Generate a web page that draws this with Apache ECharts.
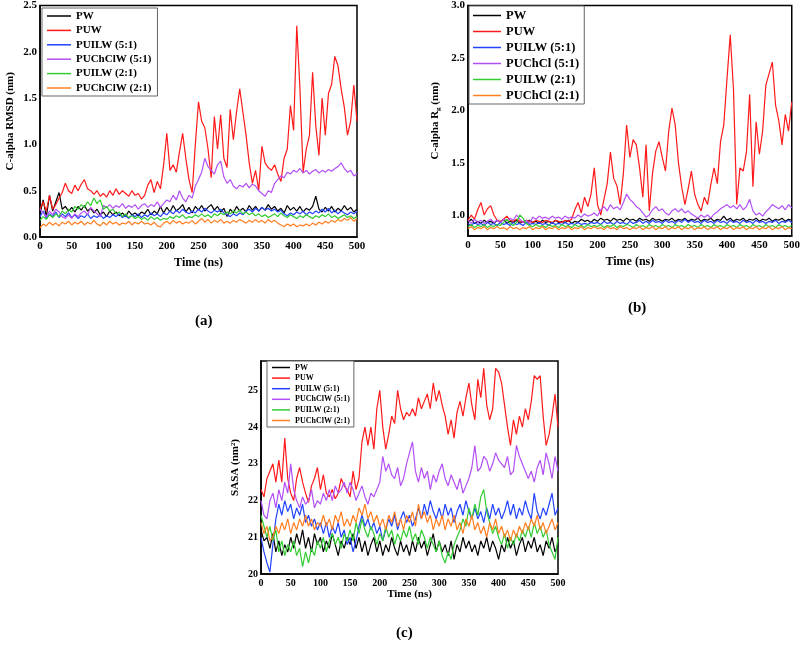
<!DOCTYPE html>
<html><head><meta charset="utf-8">
<script src="https://cdn.jsdelivr.net/npm/echarts@6/dist/echarts.min.js"></script>
<style>html,body{margin:0;padding:0;background:#fff}#c{width:803px;height:657px}</style>
</head><body><div id="c"></div>
<script>
// ---- shared time axis (ns) ----
const TIME = [0,5,10,15,20,25,30,35,40,45,50,55,60,65,70,75,80,85,90,95,
100,105,110,115,120,125,130,135,140,145,150,155,160,165,170,175,180,185,190,195,
200,205,210,215,220,225,230,235,240,245,250,255,260,265,270,275,280,285,290,295,
300,305,310,315,320,325,330,335,340,345,350,355,360,365,370,375,380,385,390,395,
400,405,410,415,420,425,430,435,440,445,450,455,460,465,470,475,480,485,490,495,500];

const NAMES_A = ['PW','PUW','PUILW (5:1)','PUChClW (5:1)','PUILW (2:1)','PUChClW (2:1)'];
const NAMES_B = ['PW','PUW','PUILW (5:1)','PUChCl (5:1)','PUILW (2:1)','PUChCl (2:1)'];
const NAMES_C = ['PW','PUW','PUILW (5:1)','PUChClW (5:1)','PUILW (2:1)','PUChClW (2:1)'];

// ---- (a) C-alpha RMSD (nm) ----
const A_PW = [0.25,0.40,0.22,0.45,0.28,0.38,0.48,0.30,0.33,0.28,
0.32,0.27,0.33,0.29,0.34,0.28,0.31,0.26,0.30,0.24,
0.27,0.22,0.28,0.24,0.27,0.23,0.26,0.22,0.28,0.24,
0.26,0.23,0.27,0.25,0.30,0.24,0.28,0.25,0.33,0.26,
0.32,0.27,0.34,0.28,0.31,0.35,0.27,0.32,0.26,0.33,
0.29,0.34,0.28,0.32,0.35,0.29,0.33,0.27,0.31,0.22,
0.30,0.26,0.33,0.28,0.31,0.27,0.34,0.29,0.33,0.28,
0.32,0.29,0.35,0.30,0.33,0.28,0.31,0.26,0.34,0.29,
0.32,0.28,0.33,0.27,0.31,0.29,0.33,0.44,0.30,0.27,
0.32,0.28,0.33,0.27,0.31,0.28,0.34,0.29,0.32,0.27,0.30];
const A_PUW = [0.30,0.38,0.28,0.45,0.30,0.35,0.42,0.48,0.58,0.50,
0.47,0.56,0.50,0.57,0.62,0.52,0.50,0.46,0.50,0.44,
0.47,0.43,0.50,0.45,0.52,0.46,0.50,0.47,0.44,0.50,
0.45,0.47,0.41,0.45,0.56,0.62,0.48,0.60,0.52,0.78,
1.12,0.72,0.78,0.70,0.92,1.12,0.85,0.62,0.48,1.00,
1.46,1.25,1.18,0.95,0.64,1.30,0.95,1.32,0.85,0.75,
1.38,1.05,1.35,1.60,1.35,1.10,0.80,0.58,0.72,0.50,
0.98,0.80,0.75,0.72,0.78,0.68,0.60,0.85,0.95,1.42,
1.15,2.28,1.60,0.70,0.95,1.10,1.78,1.20,0.88,1.50,
1.10,1.55,1.65,1.95,1.85,1.60,1.40,1.10,1.25,1.64,1.25];
const A_PUILW5 = [0.22,0.28,0.20,0.25,0.22,0.27,0.21,0.25,0.22,0.26,
0.21,0.24,0.20,0.23,0.21,0.25,0.20,0.23,0.21,0.24,
0.20,0.23,0.21,0.24,0.22,0.25,0.21,0.23,0.20,0.24,
0.22,0.25,0.21,0.24,0.22,0.26,0.23,0.25,0.22,0.26,
0.24,0.28,0.25,0.29,0.26,0.30,0.27,0.25,0.28,0.26,
0.30,0.27,0.31,0.28,0.26,0.29,0.27,0.30,0.26,0.24,
0.22,0.25,0.23,0.26,0.24,0.28,0.30,0.27,0.31,0.28,
0.32,0.29,0.31,0.28,0.30,0.27,0.29,0.25,0.23,0.26,
0.24,0.27,0.25,0.28,0.24,0.27,0.25,0.28,0.26,0.30,
0.27,0.31,0.26,0.29,0.25,0.28,0.26,0.24,0.27,0.25,0.28];
const A_PUChClW5 = [0.30,0.26,0.22,0.28,0.24,0.30,0.27,0.22,0.20,0.24,
0.20,0.25,0.22,0.26,0.28,0.24,0.32,0.28,0.25,0.22,
0.34,0.32,0.35,0.31,0.34,0.32,0.36,0.31,0.34,0.32,
0.35,0.30,0.34,0.36,0.32,0.35,0.33,0.38,0.32,0.36,
0.40,0.38,0.45,0.40,0.50,0.42,0.38,0.45,0.42,0.55,
0.62,0.70,0.85,0.76,0.72,0.68,0.78,0.82,0.65,0.58,
0.62,0.55,0.52,0.56,0.54,0.58,0.53,0.57,0.55,0.50,
0.47,0.44,0.50,0.48,0.58,0.62,0.66,0.64,0.70,0.68,
0.72,0.70,0.74,0.69,0.72,0.68,0.71,0.73,0.69,0.72,
0.70,0.73,0.71,0.74,0.76,0.80,0.74,0.70,0.72,0.66,0.68];
const A_PUILW2 = [0.18,0.22,0.19,0.24,0.21,0.25,0.22,0.28,0.25,0.30,
0.27,0.33,0.30,0.35,0.32,0.38,0.34,0.42,0.36,0.40,
0.30,0.33,0.28,0.30,0.25,0.27,0.22,0.25,0.21,0.23,
0.20,0.22,0.19,0.21,0.18,0.22,0.19,0.21,0.18,0.20,
0.19,0.22,0.20,0.23,0.21,0.24,0.20,0.22,0.21,0.24,
0.22,0.25,0.22,0.24,0.21,0.25,0.23,0.26,0.24,0.27,
0.25,0.28,0.26,0.29,0.25,0.27,0.24,0.26,0.23,0.25,
0.22,0.24,0.21,0.23,0.25,0.22,0.26,0.23,0.21,0.24,
0.22,0.20,0.23,0.21,0.24,0.22,0.20,0.23,0.21,0.24,
0.22,0.25,0.21,0.23,0.20,0.22,0.24,0.21,0.23,0.20,0.22];
const A_PUChClW2 = [0.10,0.14,0.12,0.16,0.13,0.15,0.12,0.16,0.14,0.17,
0.13,0.16,0.14,0.17,0.13,0.16,0.14,0.18,0.14,0.12,
0.16,0.13,0.17,0.14,0.16,0.13,0.15,0.14,0.17,0.13,
0.16,0.14,0.17,0.14,0.15,0.13,0.16,0.12,0.11,0.15,
0.17,0.14,0.18,0.15,0.17,0.14,0.16,0.15,0.18,0.14,
0.17,0.20,0.16,0.19,0.15,0.18,0.16,0.19,0.15,0.17,
0.15,0.18,0.16,0.19,0.17,0.15,0.18,0.16,0.19,0.16,
0.18,0.15,0.19,0.16,0.18,0.15,0.13,0.11,0.14,0.12,
0.14,0.11,0.13,0.12,0.14,0.12,0.15,0.13,0.16,0.14,
0.17,0.15,0.18,0.16,0.19,0.17,0.20,0.18,0.21,0.17,0.20];

// ---- (b) C-alpha Rg (nm) ----
const B_PW = [0.93,0.96,0.92,0.94,0.92,0.95,0.93,0.94,0.92,0.95,
0.93,0.96,0.92,0.94,0.93,0.95,0.92,0.94,0.93,0.95,
0.93,0.94,0.92,0.95,0.93,0.94,0.92,0.95,0.93,0.94,
0.93,0.95,0.92,0.94,0.93,0.96,0.94,0.95,0.93,0.96,
0.94,0.97,0.95,0.96,0.94,0.97,0.95,0.96,0.94,0.97,
0.95,0.96,0.94,0.97,0.95,0.96,0.94,0.97,0.95,0.96,
0.94,0.96,0.95,0.97,0.94,0.96,0.95,0.97,0.94,0.96,
0.95,0.97,0.94,0.96,0.95,0.97,0.94,0.96,0.95,0.99,
0.95,0.97,0.94,0.96,0.95,0.97,0.94,0.96,0.95,0.97,
0.94,0.96,0.95,0.97,0.94,0.96,0.95,0.97,0.94,0.96,0.95];
const B_PUW = [0.95,1.00,0.96,1.05,1.12,1.00,1.06,1.09,1.00,0.95,
0.94,0.96,0.99,0.95,0.94,0.96,0.94,0.93,0.95,0.94,
0.93,0.95,0.94,0.93,0.95,0.94,0.93,0.95,0.94,0.93,
0.95,0.94,0.96,1.05,1.12,1.02,1.17,1.08,1.20,1.45,
1.10,1.00,1.15,1.30,1.60,1.35,1.28,1.10,1.40,1.86,
1.55,1.72,1.67,1.45,1.17,1.67,1.04,1.40,1.61,1.70,
1.55,1.42,1.80,2.02,1.86,1.50,1.27,1.10,1.25,1.42,
1.20,1.10,1.04,1.17,1.10,1.29,1.45,1.30,1.70,1.86,
2.30,2.72,2.20,1.10,1.45,1.42,1.60,2.15,1.27,1.89,
1.58,1.80,2.24,2.35,2.46,2.05,1.90,1.67,1.96,1.80,2.08];
const B_PUILW5 = [0.92,0.90,0.93,0.91,0.92,0.90,0.93,0.91,0.92,0.90,
0.93,0.91,0.92,0.90,0.93,0.91,0.92,0.90,0.93,0.91,
0.92,0.91,0.93,0.91,0.92,0.90,0.93,0.91,0.92,0.91,
0.93,0.91,0.92,0.91,0.93,0.91,0.92,0.91,0.93,0.92,
0.93,0.91,0.94,0.92,0.93,0.91,0.94,0.92,0.93,0.91,
0.94,0.92,0.93,0.95,0.92,0.94,0.92,0.95,0.93,0.94,
0.92,0.95,0.93,0.94,0.92,0.95,0.93,0.96,0.93,0.95,
0.93,0.94,0.92,0.95,0.93,0.94,0.92,0.95,0.93,0.94,
0.92,0.95,0.93,0.94,0.92,0.95,0.93,0.94,0.92,0.95,
0.93,0.94,0.92,0.94,0.93,0.95,0.92,0.94,0.93,0.95,0.93];
const B_PUChCl5 = [0.95,0.92,0.96,0.93,0.95,0.92,0.94,0.96,0.93,0.95,
0.93,0.96,0.94,0.97,0.95,1.00,0.96,0.93,0.95,0.92,
0.98,0.96,0.99,0.97,0.98,0.96,0.99,0.97,0.98,0.96,
0.99,0.97,0.98,0.97,1.00,0.98,1.01,0.99,1.00,1.02,
0.99,1.05,1.08,1.04,1.10,1.06,1.08,1.05,1.12,1.20,
1.15,1.12,1.08,1.06,1.02,0.98,1.00,1.05,1.08,1.04,
1.06,1.02,1.00,1.04,1.06,1.03,1.06,1.02,1.04,1.01,
0.99,0.97,1.00,0.98,1.00,0.97,1.01,1.03,1.06,1.08,
1.10,1.07,1.09,1.06,1.10,1.05,1.08,1.15,1.04,1.00,
1.02,0.99,1.03,1.06,1.10,1.08,1.06,1.09,1.05,1.10,1.07];
const B_PUILW2 = [0.89,0.91,0.88,0.90,0.89,0.91,0.88,0.90,0.89,0.91,
0.90,0.93,0.96,0.92,0.90,0.93,1.00,0.97,0.92,0.90,
0.89,0.91,0.89,0.90,0.88,0.91,0.89,0.90,0.88,0.91,
0.89,0.90,0.88,0.91,0.89,0.90,0.88,0.91,0.89,0.90,
0.89,0.91,0.88,0.90,0.89,0.91,0.88,0.90,0.89,0.91,
0.90,0.88,0.91,0.89,0.90,0.88,0.91,0.89,0.90,0.88,
0.91,0.89,0.90,0.88,0.91,0.89,0.90,0.88,0.91,0.89,
0.90,0.88,0.91,0.89,0.90,0.88,0.91,0.89,0.90,0.88,
0.91,0.89,0.90,0.88,0.91,0.89,0.90,0.88,0.91,0.89,
0.90,0.88,0.91,0.89,0.90,0.88,0.91,0.89,0.90,0.88,0.90];
const B_PUChCl2 = [0.87,0.89,0.86,0.88,0.87,0.89,0.86,0.88,0.87,0.89,
0.87,0.88,0.86,0.89,0.87,0.88,0.86,0.88,0.87,0.89,
0.86,0.88,0.87,0.89,0.86,0.88,0.87,0.89,0.86,0.88,
0.87,0.89,0.86,0.88,0.87,0.89,0.86,0.88,0.87,0.89,
0.87,0.88,0.86,0.89,0.87,0.88,0.86,0.89,0.87,0.88,
0.86,0.88,0.87,0.89,0.86,0.88,0.87,0.89,0.86,0.88,
0.87,0.89,0.86,0.88,0.87,0.89,0.86,0.88,0.87,0.89,
0.86,0.88,0.87,0.89,0.86,0.88,0.87,0.89,0.86,0.88,
0.87,0.89,0.86,0.88,0.87,0.89,0.86,0.88,0.87,0.89,
0.86,0.88,0.87,0.89,0.86,0.88,0.87,0.89,0.86,0.88,0.87];

// ---- (c) SASA (nm^2) ----
const C_PW = [21.2,20.9,21.0,20.7,21.1,20.6,20.9,20.5,20.8,20.6,
21.0,20.7,21.1,20.8,21.2,20.7,21.0,20.6,21.1,20.8,
21.0,20.6,20.9,20.7,21.1,20.8,20.5,20.9,20.7,21.0,
20.8,21.1,20.7,21.0,20.6,20.9,20.5,20.8,21.0,20.6,
20.9,20.5,20.8,20.6,21.0,20.7,20.5,20.9,20.6,20.8,
20.5,20.9,20.6,21.0,20.7,20.9,20.5,20.8,21.1,20.6,
20.9,20.6,20.8,20.5,20.9,20.4,20.8,20.6,21.0,20.7,
20.9,20.6,20.8,20.5,20.9,20.7,21.0,20.6,20.9,20.7,
20.4,20.8,20.6,21.0,20.7,20.9,20.5,20.8,21.0,20.6,
20.9,20.7,21.0,20.6,20.8,20.5,20.9,20.7,21.0,20.6,20.8];
const C_PUW = [22.3,22.1,22.6,22.8,23.0,22.5,23.1,22.5,23.7,22.6,
22.2,22.0,22.6,22.9,22.5,22.2,21.95,22.4,22.6,22.9,
22.3,22.7,22.2,22.1,22.3,22.05,22.2,22.6,22.4,22.3,
22.1,22.8,22.3,22.6,23.6,24.0,23.5,24.0,23.4,24.5,
25.0,24.0,23.4,23.8,24.3,24.1,25.0,24.5,24.2,24.4,
24.3,24.5,24.3,24.8,24.5,24.7,24.9,24.5,25.2,24.7,
25.0,24.6,24.3,23.8,24.2,23.7,24.4,24.7,24.3,24.8,
25.2,24.6,24.2,25.3,24.8,25.6,24.6,24.2,24.5,25.6,
25.5,25.2,24.6,24.0,23.5,24.2,23.8,24.3,24.0,24.5,
24.2,24.7,25.4,25.3,25.4,24.3,23.5,23.8,24.3,24.9,24.0];
const C_PUILW5 = [21.0,20.6,20.3,20.05,20.8,21.5,21.9,21.6,22.0,21.7,
21.9,21.5,21.8,21.6,21.9,21.4,21.6,21.3,21.5,21.2,
21.4,21.1,21.4,21.0,21.3,21.1,21.4,21.0,21.2,20.8,
21.0,20.6,20.9,21.3,21.6,21.3,21.5,21.2,21.4,21.1,
21.3,20.9,21.2,21.5,21.3,21.6,21.2,21.5,21.7,21.4,
21.6,21.3,21.5,21.8,21.5,21.9,21.6,22.0,21.7,21.5,
21.8,21.5,21.9,21.6,21.8,21.4,21.7,21.9,21.6,22.0,
21.7,21.5,21.8,21.5,21.7,21.4,21.8,21.5,21.9,21.6,
21.8,21.5,21.7,22.0,21.6,21.9,21.5,21.8,21.6,22.0,
21.7,21.5,22.2,21.7,21.5,21.8,21.6,21.9,22.2,21.6,21.8];
const C_PUChClW5 = [22.0,21.6,21.5,22.0,22.2,21.8,22.3,22.0,22.5,22.2,
23.0,22.3,22.0,21.8,22.1,21.9,22.0,22.3,21.8,22.0,
21.9,22.2,22.0,22.3,22.0,22.4,22.2,22.3,22.5,22.2,
22.5,22.3,22.0,22.2,22.4,22.1,21.9,22.2,22.1,22.3,
22.5,23.2,22.8,23.0,22.7,22.6,22.9,22.4,22.6,23.0,
23.3,23.6,22.8,22.5,22.9,22.6,22.8,22.3,22.7,22.5,
22.8,23.0,22.6,22.4,22.7,22.5,22.3,22.6,22.2,22.4,
22.6,22.9,23.5,22.8,22.9,23.2,23.1,22.8,23.0,23.3,
23.1,23.0,22.9,23.2,22.7,22.8,23.5,23.2,23.0,22.8,
22.6,22.8,22.5,22.9,23.1,22.7,23.3,23.0,22.6,23.2,22.8];
const C_PUILW2 = [21.6,21.3,21.0,21.3,20.9,21.2,20.6,20.9,20.5,20.8,
20.6,20.9,20.5,20.7,20.2,20.6,20.3,20.7,20.5,20.9,
20.7,21.0,20.6,20.9,21.1,20.8,21.0,20.7,21.1,20.9,
21.2,20.9,21.4,21.1,21.5,21.2,21.0,21.3,21.1,20.8,
21.1,20.9,21.3,21.0,21.2,20.8,21.1,20.9,21.2,21.0,
21.3,20.9,21.1,20.8,21.2,21.0,20.7,21.0,20.8,20.6,
20.9,20.5,20.3,20.6,20.4,20.8,21.0,21.2,21.5,21.3,
21.8,21.5,21.9,21.6,22.1,22.3,21.7,21.4,21.1,21.3,
21.0,20.8,21.1,20.7,21.0,20.8,21.1,20.9,21.2,21.0,
21.3,21.0,21.4,21.1,21.3,21.0,21.2,20.8,20.6,20.4,21.0];
const C_PUChClW2 = [21.4,21.1,21.3,20.9,21.0,21.3,21.1,21.4,21.2,21.5,
21.1,21.4,21.2,21.5,21.3,21.6,21.3,21.5,21.2,21.4,
21.3,21.6,21.3,21.5,21.2,21.6,21.4,21.7,21.3,21.5,
21.3,21.6,21.4,21.8,21.6,21.9,21.5,21.7,21.4,21.6,
21.3,21.5,21.2,21.6,21.4,21.7,21.3,21.5,21.2,21.6,
21.4,21.7,21.3,21.9,21.5,21.7,21.4,21.6,21.2,21.5,
21.3,21.6,21.2,21.5,21.3,21.6,21.2,21.4,21.1,21.5,
21.3,21.6,21.2,21.4,21.1,21.3,21.0,21.4,21.2,21.5,
21.1,21.3,21.0,21.2,20.9,21.2,21.0,21.3,21.1,21.4,
21.2,21.5,21.3,21.6,21.2,21.4,21.1,21.3,21.5,21.2,21.4];

// ---- tick labels ----
const X_TICKS = [0,50,100,150,200,250,300,350,400,450,500];
const Y_TICKS_A = [0.0,0.5,1.0,1.5,2.0,2.5];
const Y_TICKS_B = [1.0,1.5,2.0,2.5,3.0];
const Y_TICKS_C = [20,21,22,23,24,25];

const FONT = '"Liberation Serif", "Times New Roman", serif';
const COLORS = ['#000000','#ff1a1a','#2343ff','#b24ff5','#33cc33','#ff7f22'];

const chart = echarts.init(document.getElementById('c'), null, {renderer:'canvas'});

function pairs(arr){ return TIME.map((t,i)=>[t,arr[i]]); }
function mkSeries(names, arrays, idx){
  return names.map((n,k)=>({
    name:n, type:'line', xAxisIndex:idx, yAxisIndex:idx,
    data:pairs(arrays[k]), symbol:'none', showSymbol:false,
    lineStyle:{width:1.2, color:COLORS[k]}, itemStyle:{color:COLORS[k]},
    emphasis:{disabled:true}, animation:false
  }));
}
function near(v, list){ return list.some(t=>Math.abs(t-v)<1e-6); }

function xAxis(idx, fs, gap, nfs){
  return {gridIndex:idx, type:'value', min:0, max:500, interval:50,
    axisLine:{lineStyle:{color:'#000', width:1.5}}, axisTick:{show:false}, splitLine:{show:false},
    axisLabel:{color:'#000', fontWeight:'bold', fontFamily:FONT, fontSize:fs, margin:4,
      formatter:v=>near(v,X_TICKS)?String(v):''},
    name:'Time (ns)', nameLocation:'middle', nameGap:gap,
    nameTextStyle:{color:'#000', fontWeight:'bold', fontFamily:FONT, fontSize:nfs}};
}
function yAxis(idx, min, max, interval, ticks, dec, fs, name, gap, nfs, rich){
  return {gridIndex:idx, type:'value', min:min, max:max, interval:interval,
    axisLine:{lineStyle:{color:'#000', width:1.5}}, axisTick:{show:false}, splitLine:{show:false},
    axisLabel:{color:'#000', fontWeight:'bold', fontFamily:FONT, fontSize:fs, margin:3,
      formatter:v=>near(v,ticks)?v.toFixed(dec):''},
    name:name, nameLocation:'middle', nameGap:gap,
    nameTextStyle:Object.assign({color:'#000', fontWeight:'bold', fontFamily:FONT, fontSize:nfs}, rich?{rich:rich}:{})};
}
function legend(names, left, top, iw, lh, gap, fs, pad){
  return {data:names, orient:'vertical', left:left, top:top, icon:'rect', itemWidth:iw, itemHeight:1.5, itemGap:gap,
    padding:pad, borderColor:'#666', borderWidth:1, backgroundColor:'#fff', selectedMode:false,
    textStyle:{color:'#000', fontWeight:'bold', fontFamily:FONT, fontSize:fs, lineHeight:lh, height:lh}};
}

const option = {
  animation:false,
  backgroundColor:'#fff',
  grid:[
    {left:40, top:5, width:317, height:232, show:true, borderColor:'#000', borderWidth:1.5},
    {left:468, top:5, width:325, height:231, show:true, borderColor:'#000', borderWidth:1.5},
    {left:261, top:361, width:297, height:213, show:true, borderColor:'#000', borderWidth:1.5}
  ],
  xAxis:[ xAxis(0,11,20,12), xAxis(1,11,20,12), xAxis(2,10,14,11) ],
  yAxis:[
    yAxis(0, 0, 2.5, 0.5, Y_TICKS_A, 1, 11, 'C-alpha RMSD (nm)', 24, 11),
    yAxis(1, 0.8, 3.0, 0.1, Y_TICKS_B, 1, 11, 'C-alpha R{sub|g} (nm)', 26, 11,
      {sub:{fontSize:7, fontWeight:'bold', fontFamily:FONT, color:'#000', padding:[7,0,0,0]}}),
    yAxis(2, 20, 25.8, 0.2, Y_TICKS_C, 0, 10, 'SASA (nm²)', 20, 11)
  ],
  legend:[
    legend(NAMES_A, 42, 8, 24, 12, 2.4, 11, [2,6,2,5]),
    legend(NAMES_B, 469, 6, 28, 13, 3, 12.5, [3,5,2,4]),
    legend(NAMES_C, 267, 361, 18, 9, 1.6, 8, [2,4,2,5])
  ],
  series:[].concat(
    mkSeries(NAMES_A,[A_PW,A_PUW,A_PUILW5,A_PUChClW5,A_PUILW2,A_PUChClW2],0),
    mkSeries(NAMES_B,[B_PW,B_PUW,B_PUILW5,B_PUChCl5,B_PUILW2,B_PUChCl2],1),
    mkSeries(NAMES_C,[C_PW,C_PUW,C_PUILW5,C_PUChClW5,C_PUILW2,C_PUChClW2],2)
  ),
  graphic:[
    {type:'text', left:195, top:314, style:{text:'(a)', font:'bold 15px '+FONT, fill:'#000'}},
    {type:'text', left:628, top:301, style:{text:'(b)', font:'bold 15px '+FONT, fill:'#000'}},
    {type:'text', left:396, top:626, style:{text:'(c)', font:'bold 15px '+FONT, fill:'#000'}}
  ]
};
chart.setOption(option);
</script></body></html>
